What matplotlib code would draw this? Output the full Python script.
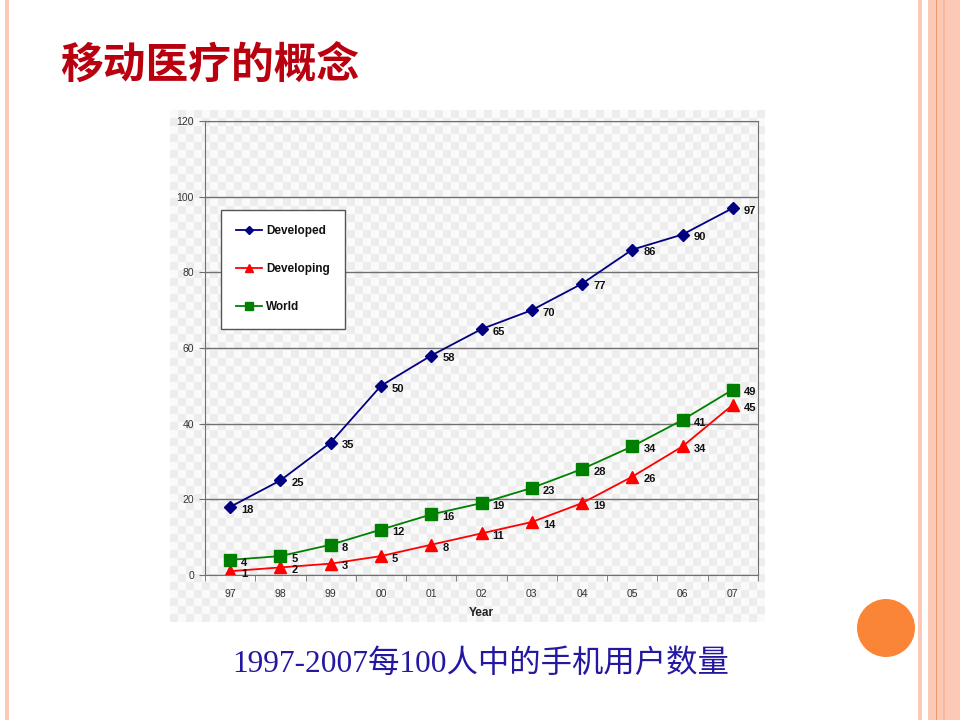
import numpy as np
import matplotlib.pyplot as plt
from matplotlib.patches import Rectangle, Circle
from matplotlib.colors import ListedColormap

years = ["97", "98", "99", "00", "01", "02", "03", "04", "05", "06", "07"]
developed = [18, 25, 35, 50, 58, 65, 70, 77, 86, 90, 97]
developing = [1, 2, 3, 5, 8, 11, 14, 19, 26, 34, 45]
world = [4, 5, 8, 12, 16, 19, 23, 28, 34, 41, 49]

title = "移动医疗的概念"
caption = "1997-2007每100人中的手机用户数量"

W, H = 960, 720
fig = plt.figure(figsize=(9.6, 7.2), dpi=100)
fig.patch.set_facecolor("white")

# slide decoration: stripes and circle
pink = "#FBC9B6"
for x0, w, c in [(5, 4, pink), (918, 4, pink), (928, 32, pink),
                 (935.5, 1.2, "#F29A6A"), (942.5, 2, "#F7B79D")]:
    fig.patches.append(Rectangle((x0 / W, 0), w / W, 1, transform=fig.transFigure,
                                 facecolor=c, edgecolor="none", zorder=0))
fig.patches.append(Circle((8.86, 7.2 - 6.28), 0.29, transform=fig.dpi_scale_trans,
                          facecolor="#FB8536", edgecolor="none", zorder=1))

fig.text(60 / W, 1 - 66 / H, title, fontsize=30.8, fontweight="bold", color="#B8000F",
         family=["Noto Sans CJK SC"], va="center", ha="left")
fig.text(232 / W, 1 - 664 / H, caption, fontsize=22.6, color="#2418A0",
         family=["Liberation Serif", "Noto Sans CJK SC"], va="center", ha="left")

# checkered chart background
bg = fig.add_axes([170 / W, 1 - 622 / H, 595 / W, 512 / H])
ny, nx = 512 // 8, 595 // 8
checker = (np.add.outer(np.arange(ny), np.arange(nx)) % 2).astype(float)
bg.imshow(checker, cmap=ListedColormap(["#FAFAFA", "#EDEDED"]),
          aspect="auto", interpolation="nearest")
bg.axis("off")

ax = fig.add_axes([205 / W, 1 - 575 / H, 553 / W, 454 / H])
ax.patch.set_alpha(0)
x = np.arange(len(years))

series = [
    ("Developed", developed, "#000080", "D", 6.5),
    ("Developing", developing, "#FF0000", "^", 9),
    ("World", world, "#008000", "s", 8.5),
]
for name, vals, col, mk, ms in series:
    ax.plot(x, vals, color=col, marker=mk, markersize=ms, linewidth=1.3, label=name)
    for xi, v in zip(x, vals):
        ax.annotate(str(v), (xi, v), xytext=(8, -2), textcoords="offset points",
                    fontsize=8, fontweight="bold", color="#111111",
                    family="Liberation Sans", va="center", ha="left")

ax.set_xlim(-0.5, len(years) - 0.5)
ax.set_ylim(0, 120)
ax.set_yticks(range(0, 121, 20))
ax.yaxis.grid(True, color="#707070", linewidth=1)
ax.set_axisbelow(True)
ax.set_xticks(x)
ax.set_xticklabels(years)
ax.set_xticks(np.arange(-0.5, len(years), 1), minor=True)
ax.tick_params(axis="x", which="major", length=0, pad=10)
ax.tick_params(axis="x", which="minor", length=4, color="#707070")
ax.tick_params(axis="y", length=4, color="#707070", pad=4)
for lab in ax.get_xticklabels() + ax.get_yticklabels():
    lab.set_fontsize(7.5)
    lab.set_fontfamily("Liberation Sans")
    lab.set_color("#333333")
for s in ax.spines.values():
    s.set_color("#707070")
ax.set_xlabel("Year", fontsize=8.5, fontweight="bold", family="Liberation Sans",
              color="#222222", labelpad=6)

leg = ax.legend(loc="upper left", bbox_to_anchor=((221 - 205) / 553, (575 - 210) / 454),
                frameon=True, fancybox=False, edgecolor="#555555", framealpha=1,
                prop={"family": "Liberation Sans", "weight": "bold", "size": 8.5},
                labelspacing=2.2, handlelength=2.2, handletextpad=0.3,
                borderpad=1.3, borderaxespad=0, markerscale=0.7)
leg.get_frame().set_linewidth(1)
for t in leg.get_texts():
    t.set_color("#111111")

fig.savefig("out.png", dpi=100)
